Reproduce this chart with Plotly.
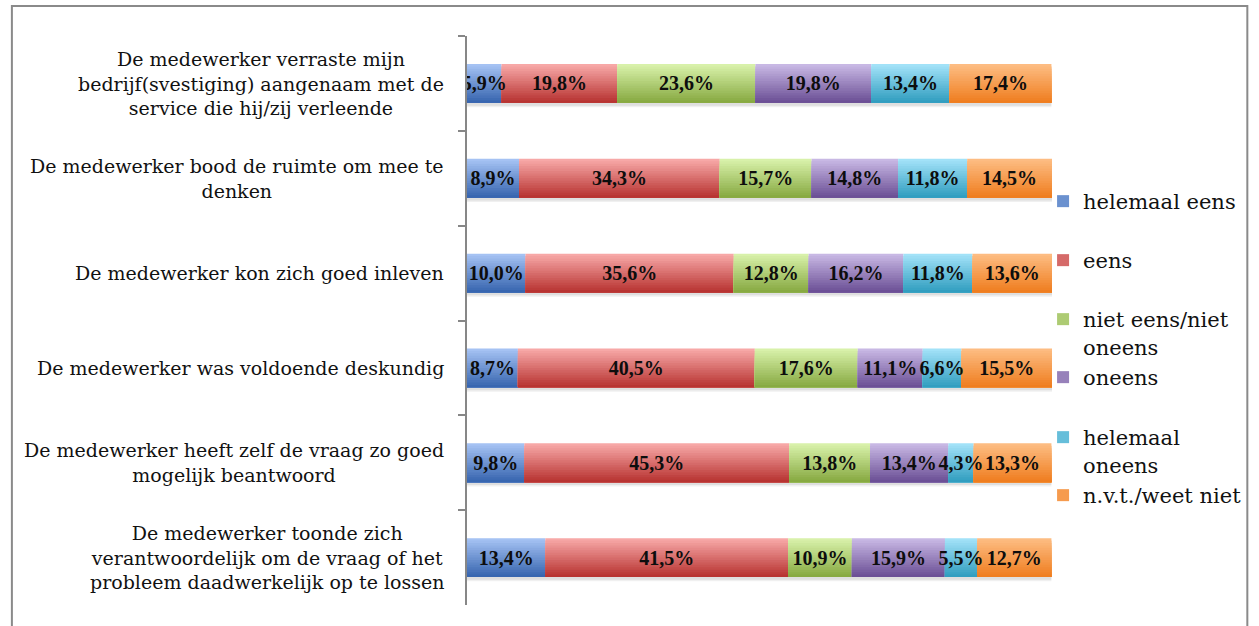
import plotly.graph_objects as go

# Statements (top to bottom)
categories = [
    "De medewerker verraste mijn<br>bedrijf(svestiging) aangenaam met de<br>service die hij/zij verleende",
    "De medewerker bood de ruimte om mee te<br>denken",
    "De medewerker kon zich goed inleven",
    "De medewerker was voldoende deskundig",
    "De medewerker heeft zelf de vraag zo goed<br>mogelijk beantwoord",
    "De medewerker toonde zich<br>verantwoordelijk om de vraag of het<br>probleem daadwerkelijk op te lossen",
]

# Answer options as shown in the legend
series_names = [
    "helemaal eens",
    "eens",
    "niet eens/niet<br>oneens",
    "oneens",
    "helemaal<br>oneens",
    "n.v.t./weet niet",
]

# Percentages per answer option, one value per statement
helemaal_eens = [5.9, 8.9, 10.0, 8.7, 9.8, 13.4]
eens = [19.8, 34.3, 35.6, 40.5, 45.3, 41.5]
neutraal = [23.6, 15.7, 12.8, 17.6, 13.8, 10.9]
oneens = [19.8, 14.8, 16.2, 11.1, 13.4, 15.9]
helemaal_oneens = [13.4, 11.8, 11.8, 6.6, 4.3, 5.5]
nvt = [17.4, 14.5, 13.6, 15.5, 13.3, 12.7]

series_values = [helemaal_eens, eens, neutraal, oneens, helemaal_oneens, nvt]

# Vertical gradient per series: (top colour, bottom colour)
gradients = [
    ((165, 194, 243), (56, 102, 176)),
    ((247, 168, 167), (184, 52, 50)),
    ((216, 241, 170), (136, 170, 66)),
    ((200, 184, 228), (108, 80, 150)),
    ((162, 226, 248), (50, 158, 192)),
    ((253, 188, 130), (239, 126, 32)),
]

# Figure geometry (pixels)
FIG_W, FIG_H = 1259, 626
PLOT_L, PLOT_R, PLOT_T, PLOT_B = 467, 1057, 36, 605
PW, PH = PLOT_R - PLOT_L, PLOT_B - PLOT_T

BAR_W = 0.41
N_STRIPS = 16

LABEL_FONT = "DejaVu Serif, serif"
VALUE_FONT = "Liberation Serif, serif"


def mix(c0, c1, t):
    return "rgb({},{},{})".format(*[round(a + (b - a) * t) for a, b in zip(c0, c1)])


def px_to_paper_x(px):
    return (px - PLOT_L) / PW


def px_to_paper_y(py):
    return (PLOT_B - py) / PH


fig = go.Figure()

# soft drop shadow below each full bar
totals = [sum(v) for v in zip(*series_values)]
for shift, alpha in [(0.045, 0.06), (0.03, 0.07)]:
    fig.add_trace(go.Bar(
        y=categories, x=totals, base=[0] * len(totals), orientation="h",
        width=BAR_W, offset=-BAR_W / 2 + shift,
        marker=dict(color=f"rgba(0,0,0,{alpha})", line=dict(width=0)),
        showlegend=False, hoverinfo="skip",
    ))

# gradient-filled stacked segments
bases = [0.0] * len(categories)
segment_bases = []
for s, (name, vals, (top, bot)) in enumerate(zip(series_names, series_values, gradients)):
    segment_bases.append(list(bases))
    legend_id = "legend" if s == 0 else f"legend{s + 1}"
    for k in range(N_STRIPS):
        t = k / (N_STRIPS - 1)
        fig.add_trace(go.Bar(
            y=categories, x=vals, base=list(bases), orientation="h",
            width=BAR_W * (1 - k / N_STRIPS),
            offset=-BAR_W / 2 + BAR_W * k / N_STRIPS,
            marker=dict(color=mix(top, bot, t), line=dict(width=0)),
            name=name, legendgroup=name, legend=legend_id,
            showlegend=(k == N_STRIPS // 2),
            hoverinfo="skip",
        ))
    bases = [b + v for b, v in zip(bases, vals)]

# value labels on top of every segment
for s, vals in enumerate(series_values):
    fig.add_trace(go.Bar(
        y=categories, x=vals, base=segment_bases[s], orientation="h",
        width=BAR_W, offset=-BAR_W / 2,
        marker=dict(color="rgba(0,0,0,0)", line=dict(width=0)),
        text=[f"{v:.1f}".replace(".", ",") + "%" for v in vals],
        textposition="inside", insidetextanchor="middle", textangle=0,
        constraintext="none",
        insidetextfont=dict(family=VALUE_FONT, size=20, color="#0d0d0d", weight="bold"),
        showlegend=False, hoverinfo="skip",
    ))

# statement labels, centred line by line
annotations = [
    dict(
        x=0, xref="paper", y=cat, yref="y", text=cat,
        xanchor="right", yanchor="middle", align="center", xshift=-21,
        showarrow=False, font=dict(family=LABEL_FONT, size=19, color="#111111"),
    )
    for cat in categories
]

# one legend per answer option so each first line sits on its own row
legend_rows = [202, 261, 320, 378, 438, 496]
legend_layout = {}
for s, row in enumerate(legend_rows):
    key = "legend" if s == 0 else f"legend{s + 1}"
    legend_layout[key] = dict(
        x=px_to_paper_x(1048), xanchor="left",
        y=px_to_paper_y(row - 21), yanchor="top",
        valign="top", bgcolor="rgba(0,0,0,0)", borderwidth=0,
        font=dict(family=LABEL_FONT, size=21, color="#111111"),
        traceorder="normal",
    )

fig.update_layout(
    width=FIG_W, height=FIG_H,
    margin=dict(l=PLOT_L, r=FIG_W - PLOT_R, t=PLOT_T, b=FIG_H - PLOT_B, pad=0),
    paper_bgcolor="white", plot_bgcolor="white",
    barmode="overlay",
    xaxis=dict(range=[0, 100], visible=False),
    yaxis=dict(
        type="category", categoryorder="array", categoryarray=categories,
        range=[len(categories) - 0.5, -0.5],
        showline=True, linecolor="#878787", linewidth=2,
        ticks="outside", ticklen=7, tickwidth=1.5, tickcolor="#878787",
        tickson="boundaries", showticklabels=False,
        showgrid=False, zeroline=False,
    ),
    annotations=annotations,
    shapes=[dict(
        type="rect", xref="paper", yref="paper",
        x0=px_to_paper_x(8), x1=px_to_paper_x(1254),
        y0=px_to_paper_y(640), y1=px_to_paper_y(6),
        line=dict(color="#8a8a8a", width=2), fillcolor="rgba(0,0,0,0)",
        layer="below",
    )],
    **legend_layout,
)

fig.write_html("out.html")
